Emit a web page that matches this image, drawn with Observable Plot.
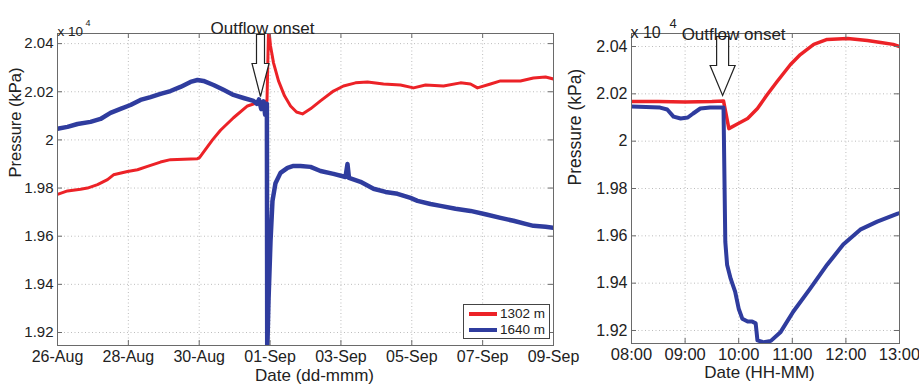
<!DOCTYPE html>
<html><head><meta charset="utf-8">
<script src="https://cdn.jsdelivr.net/npm/d3@7"></script>
<script src="https://cdn.jsdelivr.net/npm/@observablehq/plot@0.6"></script>
<style>
body{margin:0;background:#fff;}
#wrap{position:relative;width:919px;height:390px;font-family:"Liberation Sans",Arial,sans-serif;color:#222;}
#wrap svg{position:absolute;top:0;overflow:visible;background:transparent;}
.legend{position:absolute;background:#fff;border:1px solid #444;box-sizing:border-box;font-size:13.5px;line-height:16px;padding:1px 4px 0 5px;}
.legend div{display:flex;align-items:center;white-space:nowrap;}
.legend span.sw{display:inline-block;width:28px;height:4px;margin-right:3px;}
</style></head><body><div id="wrap"></div>
<script>
// ---------- data ----------
const seriesNames = ["1302 m", "1640 m"];
const seriesColors = ["#ec2227", "#2f3c9e"];

// Left panel (dd-mmm), pressure in x10^4 kPa
const leftRed = [
  ["2011-08-26T00:00", 1.9774], ["2011-08-26T06:46", 1.9788], ["2011-08-26T15:35", 1.9795],
  ["2011-08-26T20:19", 1.9800], ["2011-08-27T03:06", 1.9814], ["2011-08-27T09:52", 1.9835],
  ["2011-08-27T13:56", 1.9855], ["2011-08-27T23:25", 1.9869], ["2011-08-28T06:12", 1.9876],
  ["2011-08-28T12:58", 1.9890], ["2011-08-28T21:46", 1.9908], ["2011-08-29T04:33", 1.9918],
  ["2011-08-29T22:50", 1.9922], ["2011-08-30T00:11", 1.9926], ["2011-08-30T09:00", 2.0000],
  ["2011-08-30T14:25", 2.0040], ["2011-08-30T23:13", 2.0092], ["2011-08-31T08:42", 2.0141],
  ["2011-08-31T15:28", 2.0155], ["2011-08-31T21:55", 2.0162], ["2011-08-31T23:00", 2.0470],
  ["2011-09-01T00:18", 2.0390], ["2011-09-01T02:20", 2.0320], ["2011-09-01T05:43", 2.0245],
  ["2011-09-01T09:47", 2.0183], ["2011-09-01T13:51", 2.0141], ["2011-09-01T17:54", 2.0116],
  ["2011-09-01T21:58", 2.0108], ["2011-09-02T03:23", 2.0129], ["2011-09-02T10:09", 2.0162],
  ["2011-09-02T18:57", 2.0203], ["2011-09-03T01:44", 2.0224], ["2011-09-03T09:52", 2.0237],
  ["2011-09-03T18:00", 2.0241], ["2011-09-04T04:50", 2.0232], ["2011-09-04T16:21", 2.0228],
  ["2011-09-05T01:10", 2.0216], ["2011-09-05T09:18", 2.0228], ["2011-09-05T21:30", 2.0224],
  ["2011-09-06T09:00", 2.0237], ["2011-09-06T15:46", 2.0232], ["2011-09-06T20:30", 2.0216],
  ["2011-09-07T05:18", 2.0232], ["2011-09-07T12:06", 2.0245], ["2011-09-08T01:36", 2.0245],
  ["2011-09-08T10:24", 2.0257], ["2011-09-08T18:36", 2.0261], ["2011-09-09T00:00", 2.0253]
];
const leftBlue = [
  ["2011-08-26T00:00", 2.0046], ["2011-08-26T06:46", 2.0054], ["2011-08-26T13:33", 2.0066],
  ["2011-08-26T22:21", 2.0075], ["2011-08-27T05:08", 2.0087], ["2011-08-27T11:54", 2.0112],
  ["2011-08-27T18:41", 2.0129], ["2011-08-28T01:27", 2.0145], ["2011-08-28T08:14", 2.0166],
  ["2011-08-28T15:00", 2.0178], ["2011-08-28T21:46", 2.0191], ["2011-08-29T04:33", 2.0203],
  ["2011-08-29T11:19", 2.0220], ["2011-08-29T18:06", 2.0241], ["2011-08-29T22:50", 2.0249],
  ["2011-08-30T02:54", 2.0245], ["2011-08-30T09:41", 2.0228], ["2011-08-30T16:27", 2.0208],
  ["2011-08-30T23:13", 2.0187], ["2011-08-31T06:00", 2.0174], ["2011-08-31T12:46", 2.0162],
  ["2011-08-31T15:00", 2.0150], ["2011-08-31T16:30", 2.0168], ["2011-08-31T18:00", 2.0128],
  ["2011-08-31T19:33", 2.0160], ["2011-08-31T20:40", 2.0105], ["2011-08-31T21:50", 2.0150],
  ["2011-08-31T22:05", 1.9120],
  ["2011-08-31T22:56", 1.9332], ["2011-09-01T00:18", 1.9580], ["2011-09-01T01:38", 1.9747],
  ["2011-09-01T03:40", 1.9820], ["2011-09-01T07:04", 1.9863], ["2011-09-01T11:49", 1.9884],
  ["2011-09-01T15:52", 1.9892], ["2011-09-01T20:37", 1.9892], ["2011-09-02T03:23", 1.9888],
  ["2011-09-02T10:09", 1.9871], ["2011-09-02T18:57", 1.9859], ["2011-09-03T03:05", 1.9846],
  ["2011-09-03T04:26", 1.9900], ["2011-09-03T05:28", 1.9842], ["2011-09-03T13:16", 1.9826],
  ["2011-09-03T22:04", 1.9797], ["2011-09-04T06:12", 1.9784], ["2011-09-04T14:19", 1.9776],
  ["2011-09-04T23:08", 1.9759], ["2011-09-05T03:52", 1.9747], ["2011-09-05T12:40", 1.9734],
  ["2011-09-05T19:27", 1.9726], ["2011-09-06T05:37", 1.9714], ["2011-09-06T15:46", 1.9705],
  ["2011-09-07T03:17", 1.9689], ["2011-09-07T12:06", 1.9676], ["2011-09-07T20:54", 1.9664],
  ["2011-09-08T05:02", 1.9651], ["2011-09-08T10:24", 1.9643], ["2011-09-08T18:36", 1.9639],
  ["2011-09-09T00:00", 1.9635]
];

// Right panel (HH-MM)
const rightRed = [
  ["2011-09-01T08:00", 2.0168], ["2011-09-01T08:30", 2.0168], ["2011-09-01T09:00", 2.0166],
  ["2011-09-01T09:30", 2.0168], ["2011-09-01T09:43", 2.0170], ["2011-09-01T09:49", 2.0053],
  ["2011-09-01T09:59", 2.0074], ["2011-09-01T10:10", 2.0096], ["2011-09-01T10:21", 2.0138],
  ["2011-09-01T10:32", 2.0197], ["2011-09-01T10:43", 2.0252], ["2011-09-01T10:58", 2.0324],
  ["2011-09-01T11:09", 2.0366], ["2011-09-01T11:24", 2.0409], ["2011-09-01T11:39", 2.0430],
  ["2011-09-01T12:02", 2.0434], ["2011-09-01T12:24", 2.0425], ["2011-09-01T12:39", 2.0417],
  ["2011-09-01T12:53", 2.0409], ["2011-09-01T13:00", 2.0400]
];
const rightBlue = [
  ["2011-09-01T08:00", 2.0146], ["2011-09-01T08:32", 2.0142], ["2011-09-01T08:40", 2.0134],
  ["2011-09-01T08:47", 2.0104], ["2011-09-01T08:55", 2.0096], ["2011-09-01T09:03", 2.0100],
  ["2011-09-01T09:09", 2.0117], ["2011-09-01T09:17", 2.0138], ["2011-09-01T09:28", 2.0142],
  ["2011-09-01T09:43", 2.0142], ["2011-09-01T09:45", 1.9575], ["2011-09-01T09:47", 1.9478],
  ["2011-09-01T09:51", 1.9419], ["2011-09-01T09:56", 1.9364], ["2011-09-01T10:00", 1.9292],
  ["2011-09-01T10:04", 1.9250], ["2011-09-01T10:10", 1.9238], ["2011-09-01T10:15", 1.9238],
  ["2011-09-01T10:19", 1.9230], ["2011-09-01T10:21", 1.9158], ["2011-09-01T10:28", 1.9150],
  ["2011-09-01T10:36", 1.9156], ["2011-09-01T10:47", 1.9194], ["2011-09-01T11:01", 1.9279],
  ["2011-09-01T11:20", 1.9377], ["2011-09-01T11:39", 1.9478], ["2011-09-01T11:57", 1.9563],
  ["2011-09-01T12:16", 1.9626], ["2011-09-01T12:35", 1.9660], ["2011-09-01T12:58", 1.9694],
  ["2011-09-01T13:00", 1.9696]
];

const yTicks = [1.92, 1.94, 1.96, 1.98, 2.00, 2.02, 2.04];
const leftXTicks = ["2011-08-26", "2011-08-28", "2011-08-30", "2011-09-01", "2011-09-03", "2011-09-05", "2011-09-07", "2011-09-09"];
const rightXTicks = ["2011-09-01T08:00", "2011-09-01T09:00", "2011-09-01T10:00", "2011-09-01T11:00", "2011-09-01T12:00", "2011-09-01T13:00"];
const leftDomain = ["2011-08-26T00:00", "2011-09-09T00:00"];
const rightDomain = ["2011-09-01T08:00", "2011-09-01T13:00"];
const leftOnsetMark = "2011-08-31T17:31";
const rightOnsetMark = "2011-09-01T09:42";
const annotation = "Outflow onset";
const scaleNote = "x 10";
const scaleExp = "4";
const yLabel = "Pressure (kPa)";
const leftXLabel = "Date (dd-mmm)";
const rightXLabel = "Date (HH-MM)";

// ---------- helpers ----------
const P = s => new Date(s + (s.length <= 10 ? "T00:00Z" : "Z"));
const rows = (arr, name) => arr.map(([t, v]) => ({t: P(t), v, name}));
const fmtY = d => String(+d.toFixed(2));
function blockArrow(sw, hw, shaft, tip, top) {
  return {draw(ctx) {
    ctx.moveTo(-sw, top); ctx.lineTo(sw, top); ctx.lineTo(sw, shaft); ctx.lineTo(hw, shaft);
    ctx.lineTo(0, tip); ctx.lineTo(-hw, shaft); ctx.lineTo(-sw, shaft); ctx.closePath();
  }};
}
const FONT = '"Liberation Sans", Arial, sans-serif';

function panel({width, margins, xDomain, yDomain, xTicks, xFmt, red, blue, redW, blueW, arrowAt, arrow,
                tickFont, yTickFont, xLabel, labelDx, labelDy, yLabelDx, yLabelDy, yLabelFont, annDx, annDy, noteDx, expDx, expDy, expFont, noteFont}) {
  const [mt, mr, mb, ml] = margins;
  const height = 390;
  const innerH = height - mt - mb, innerW = width - ml - mr;
  const xt = xTicks.map(P);
  const frameC = "#6a6a6a";
  return Plot.plot({
    width, height, marginTop: mt, marginRight: mr, marginBottom: mb, marginLeft: ml,
    style: {fontFamily: FONT, color: "#222", background: "transparent", overflow: "visible"},
    x: {type: "utc", domain: xDomain.map(P)},
    y: {domain: yDomain},
    marks: [
      Plot.ruleX(xt, {stroke: "#bdbdbd", strokeDasharray: "1,2.5", strokeWidth: 1}),
      Plot.ruleY(yTicks, {stroke: "#bdbdbd", strokeDasharray: "1,2.5", strokeWidth: 1}),
      Plot.line(red, {x: "t", y: "v", stroke: seriesColors[0], strokeWidth: redW, clip: true, strokeLinejoin: "round"}),
      Plot.line(blue, {x: "t", y: "v", stroke: seriesColors[1], strokeWidth: blueW, clip: true, strokeLinejoin: "round"}),
      Plot.frame({stroke: frameC, strokeWidth: 1}),
      Plot.tickX(xt, {x: d => d, insetTop: innerH - 5, stroke: frameC}),
      Plot.tickX(xt, {x: d => d, insetBottom: innerH - 5, stroke: frameC}),
      Plot.tickY(yTicks, {y: d => d, insetRight: innerW - 5, stroke: frameC}),
      Plot.tickY(yTicks, {y: d => d, insetLeft: innerW - 5, stroke: frameC}),
      Plot.axisX({ticks: xt, tickSize: 0, tickPadding: 5, tickFormat: xFmt, fontSize: tickFont, label: null, fill: "#222"}),
      Plot.axisY({ticks: yTicks, tickSize: 0, tickPadding: 4, tickFormat: fmtY, fontSize: yTickFont, label: null, fill: "#222"}),
      Plot.dot([P(arrowAt)], {x: d => d, frameAnchor: "top", r: 5, symbol: arrow, fill: "white", stroke: "#222", strokeWidth: 1.2}),
      Plot.text([{t: P(arrowAt), s: annotation}], {x: "t", text: "s", frameAnchor: "top", dx: annDx, dy: annDy, fontSize: 17, fill: "#222"}),
      Plot.text([scaleNote], {frameAnchor: "top-left", dx: noteDx, dy: -7, textAnchor: "start", fontSize: noteFont, fill: "#222"}),
      Plot.text([scaleExp], {frameAnchor: "top-left", dx: expDx, dy: expDy, textAnchor: "start", fontSize: expFont, fill: "#222"}),
      Plot.text([xLabel], {frameAnchor: "bottom", dx: labelDx, dy: labelDy, fontSize: 17, fill: "#222"}),
      Plot.text([yLabel], {frameAnchor: "left", dx: yLabelDx, dy: yLabelDy, rotate: -90, fontSize: yLabelFont, fill: "#222"})
    ]
  });
}

const wrap = document.getElementById("wrap");

const left = panel({
  width: 560, margins: [33, 7, 45, 57],
  xDomain: leftDomain, yDomain: [1.9146, 2.0442], xTicks: leftXTicks, xFmt: d3.utcFormat("%d-%b"),
  red: rows(leftRed, seriesNames[0]), blue: rows(leftBlue, seriesNames[1]), redW: 3, blueW: 4.5,
  arrowAt: leftOnsetMark, arrow: blockArrow(4, 8.5, 30, 63, 1),
  tickFont: 16, yTickFont: 15, xLabel: leftXLabel, labelDx: 9, labelDy: 35,
  yLabelDx: -42, yLabelDy: -12, yLabelFont: 16.5, annDx: 2, annDy: -12,
  noteDx: 0, noteFont: 13.5, expDx: 28, expDy: -14, expFont: 9
});
left.style.left = "0px";
wrap.appendChild(left);

const right = panel({
  width: 359, margins: [33, 20, 47, 71],
  xDomain: rightDomain, yDomain: [1.9145, 2.0455], xTicks: rightXTicks, xFmt: d3.utcFormat("%H:%M"),
  red: rows(rightRed, seriesNames[0]), blue: rows(rightBlue, seriesNames[1]), redW: 3.5, blueW: 4,
  arrowAt: rightOnsetMark, arrow: blockArrow(6, 12.5, 32, 62, 3),
  tickFont: 16.5, yTickFont: 16, xLabel: rightXLabel, labelDx: -6, labelDy: 34,
  yLabelDx: -56, yLabelDy: -3, yLabelFont: 17.5, annDx: 11, annDy: -6,
  noteDx: -1, noteFont: 16, expDx: 38, expDy: -15, expFont: 13
});
right.style.left = "560px";
wrap.appendChild(right);

// legend (built from the series arrays)
const lg = document.createElement("div");
lg.className = "legend";
Object.assign(lg.style, {left: "463px", top: "304px", width: "87px", height: "35px"});
seriesNames.forEach((n, i) => {
  const row = document.createElement("div");
  const sw = document.createElement("span");
  sw.className = "sw"; sw.style.background = seriesColors[i];
  row.appendChild(sw);
  row.appendChild(document.createTextNode(n));
  lg.appendChild(row);
});
wrap.appendChild(lg);
</script>
</body></html>
